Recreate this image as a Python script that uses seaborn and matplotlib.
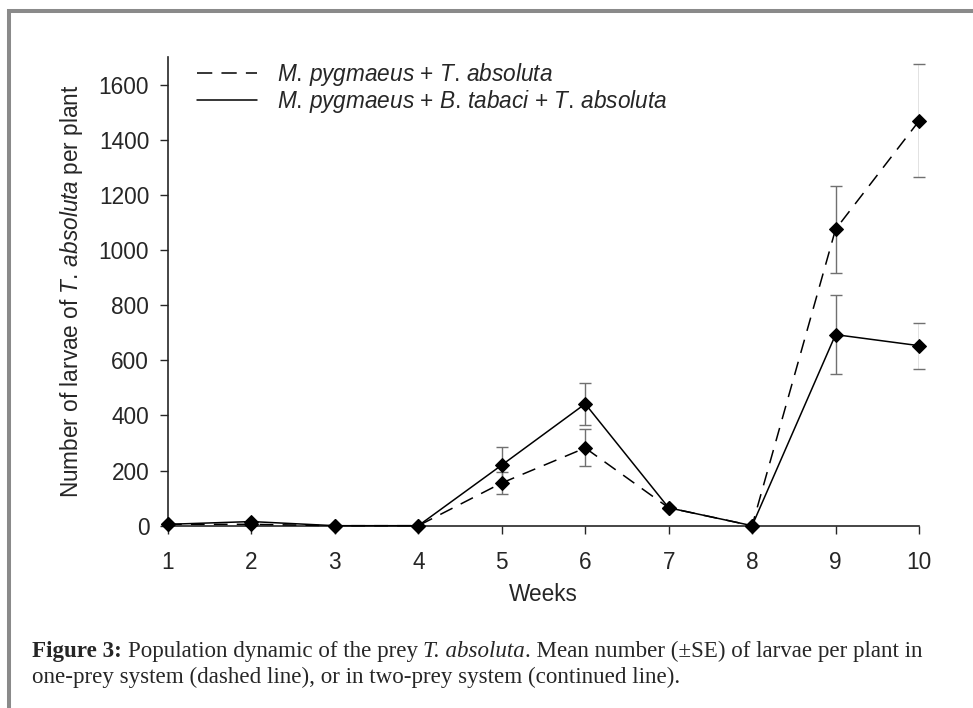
import matplotlib
matplotlib.use('Agg')
import matplotlib.pyplot as plt
import seaborn as sns
import pandas as pd
from matplotlib.lines import Line2D
from matplotlib.patches import Rectangle

# data (mean larvae per plant, +-SE)
weeks = [1, 2, 3, 4, 5, 6, 7, 8, 9, 10]
one_prey_mean = [5, 5, 0, 0, 155, 282, 65, 0, 1075, 1468]
one_prey_se = [0, 0, 0, 0, 40, 67, 0, 0, 158, 205]
two_prey_mean = [5, 15, 0, 0, 220, 442, 65, 0, 693, 653]
two_prey_se = [0, 0, 0, 0, 65, 76, 0, 0, 143, 84]
yticks = [0, 200, 400, 600, 800, 1000, 1200, 1400, 1600]

sns.set_style('ticks')
plt.rcParams['font.family'] = ['Liberation Sans', 'DejaVu Sans']
plt.rcParams['mathtext.fontset'] = 'custom'
plt.rcParams['mathtext.rm'] = 'Liberation Sans'
plt.rcParams['mathtext.it'] = 'Liberation Sans:italic'
plt.rcParams['mathtext.bf'] = 'Liberation Sans:bold'

FS = 16.3
CAP_FS = 16.6

lbl_one = r'$\mathit{M.\,pygmaeus}$ + $\mathit{T.\,absoluta}$'
lbl_two = r'$\mathit{M.\,pygmaeus}$ + $\mathit{B.\,tabaci}$ + $\mathit{T.\,absoluta}$'

df = pd.DataFrame({
    'week': weeks + weeks,
    'larvae': one_prey_mean + two_prey_mean,
    'se': one_prey_se + two_prey_se,
    'system': ['one'] * len(weeks) + ['two'] * len(weeks),
})

fig = plt.figure(figsize=(9.73, 7.08), dpi=100)
ax = fig.add_axes([168 / 973, 1 - 525.7 / 708, (919 - 168) / 973, (525.7 - 57) / 708])

# error bars first so the lines sit on top
for sys_name, grp in df.groupby('system'):
    ax.errorbar(grp['week'], grp['larvae'], yerr=grp['se'], fmt='none',
                ecolor='#707070', elinewidth=1.0, capsize=4.5, capthick=1.0,
                zorder=1)

sns.lineplot(data=df, x='week', y='larvae', style='system',
             dashes={'one': (9, 6), 'two': ''}, markers={'one': 'D', 'two': 'D'},
             color='black', markersize=7, markeredgecolor='black',
             linewidth=1.1, legend=False, ax=ax, zorder=3)

ax.set_xlim(1, 10)
ax.set_ylim(0, 1700)
ax.set_xticks(weeks)
ax.set_yticks(yticks)
ax.tick_params(labelsize=FS, length=6, width=1, direction='out')
ax.tick_params(axis='x', pad=12)
ax.tick_params(axis='y', pad=7.5)
for c in ax.get_children():
    if isinstance(c, Line2D):
        c.set_clip_on(False)
sns.despine(ax=ax)
ax.spines['left'].set_linewidth(1.2)
ax.spines['bottom'].set_linewidth(1.2)

ax.set_xlabel('Weeks', fontsize=FS, labelpad=7)
ax.set_ylabel(r'Number of larvae of $\mathit{T.\,absoluta}$ per plant',
              fontsize=FS, labelpad=10)

handles = [Line2D([], [], color='black', lw=1.1, dashes=(10, 6)),
           Line2D([], [], color='black', lw=1.1)]
ax.legend(handles, [lbl_one, lbl_two], loc='upper left', frameon=False,
          fontsize=FS, handlelength=2.65, handletextpad=0.9,
          labelspacing=0.0, bbox_to_anchor=(0.026, 1.01), borderaxespad=0)

# caption below the chart, first line built from pieces so the styles can mix
space_pt = 0.25 * CAP_FS
pieces = [('Population dynamic of the prey', 'normal', 'normal', space_pt),
          ('T. absoluta', 'normal', 'italic', space_pt),
          ('. Mean number (±SE) of larvae per plant in', 'normal', 'normal', 0)]
prev = fig.text(32 / 973, 1 - 662 / 708, 'Figure 3:', fontsize=CAP_FS,
                family='Liberation Serif', weight='bold', va='bottom')
for txt, wt, st, gap in pieces:
    prev = fig.add_artist(plt.Annotation(
        txt, xy=(1, 0), xycoords=prev, xytext=(gap, 0),
        textcoords='offset points', va='bottom', ha='left',
        fontsize=CAP_FS, family='Liberation Serif', weight=wt, style=st,
        annotation_clip=False))
fig.text(32 / 973, 1 - 688 / 708,
         'one-prey system (dashed line), or in two-prey system (continued line).',
         fontsize=CAP_FS, family='Liberation Serif', va='bottom', ha='left')

# grey frame around the figure
fig.add_artist(Rectangle((8.7 / 973, -0.2), 2.0, 1.2 - 11.3 / 708,
                         transform=fig.transFigure, fill=False,
                         edgecolor='#8a8a8a', linewidth=2.9, clip_on=False))

fig.savefig('out.png', dpi=100)
